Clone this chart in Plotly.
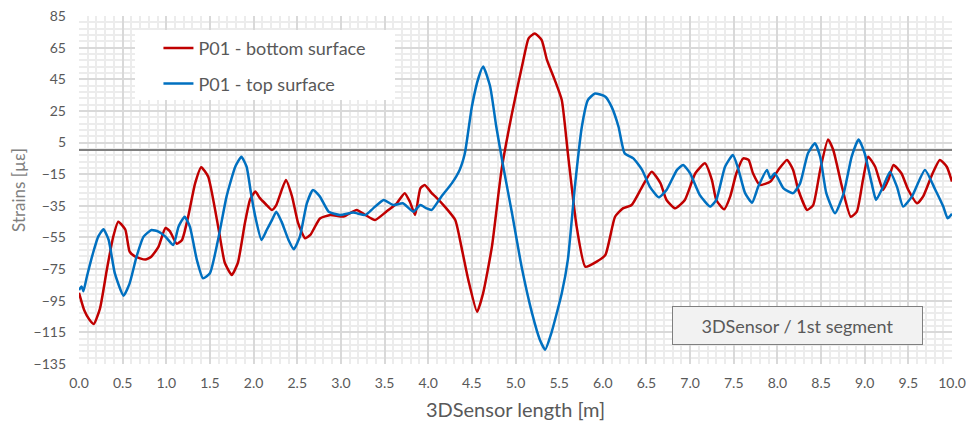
import plotly.graph_objects as go

# ---- data ----
bottom_x = [0.0, 0.06, 0.12, 0.17, 0.24, 0.32, 0.39, 0.45, 0.53, 0.58, 0.64, 0.76, 0.83, 0.91, 0.99, 1.04,
            1.12, 1.18, 1.25, 1.33, 1.40, 1.48, 1.60, 1.67, 1.75, 1.82, 1.90, 1.96, 2.02, 2.07, 2.14, 2.21,
            2.26, 2.37, 2.44, 2.51, 2.59, 2.65, 2.76, 2.88, 3.03, 3.18, 3.28, 3.39, 3.52, 3.64, 3.73, 3.79,
            3.85, 3.91, 3.96, 4.04, 4.08, 4.19, 4.31, 4.38, 4.46, 4.56, 4.63, 4.73, 4.84, 4.96, 5.09, 5.15,
            5.22, 5.30, 5.36, 5.45, 5.53, 5.60, 5.70, 5.80, 5.93, 6.03, 6.14, 6.23, 6.33, 6.45, 6.56, 6.66,
            6.73, 6.83, 6.94, 7.06, 7.17, 7.25, 7.30, 7.39, 7.46, 7.53, 7.61, 7.67, 7.72, 7.80, 7.92, 8.01,
            8.11, 8.18, 8.24, 8.34, 8.41, 8.49, 8.58, 8.64, 8.74, 8.84, 8.91, 8.98, 9.04, 9.12, 9.21, 9.27,
            9.33, 9.42, 9.50, 9.60, 9.67, 9.77, 9.86, 9.94, 10.0]
bottom_y = [-90, -101, -107, -109.7, -100, -75, -55, -45, -50, -64, -67, -69, -67, -61, -49, -51,
            -59, -56.6, -41.9, -20.8, -10.6, -16.6, -50, -71, -78.7, -71, -46, -31, -26, -30, -34, -37.6,
            -34.5, -18.7, -29, -46, -55.5, -53.4, -43, -40.8, -41.8, -37.6, -40.8, -44, -38.7, -33.4, -27, -32.4,
            -40.8, -24, -21.8, -27, -29, -35.5, -44, -60.8, -82, -102, -90, -60.8, -12.3, 23.5, 57.2, 70.9,
            74, 69.8, 57.2, 44.5, 31.9, -1.8, -48, -73.5, -70.3, -66, -41.9, -36.6, -34.5, -23, -13.4, -20.7,
            -31.3, -36.6, -31.3, -14.4, -8.1, -18.7, -31.3, -37.2, -29, -14.4, -5, -6, -14.4, -21.8, -19.7, -12.3,
            -6, -12.3, -25, -37.6, -34.5, -12.3, 7, 0.3, -23, -41.9, -38.7, -18.7, -4, -10.3, -25, -18.7,
            -9.2, -14.4, -25, -33.4, -29, -15.5, -6, -10.3, -19.7]

top_x = [0.0, 0.03, 0.05, 0.09, 0.16, 0.22, 0.28, 0.34, 0.41, 0.51, 0.58, 0.66, 0.74, 0.83, 0.91, 0.99,
         1.08, 1.14, 1.21, 1.27, 1.35, 1.42, 1.50, 1.60, 1.69, 1.79, 1.86, 1.92, 1.97, 2.02, 2.09, 2.15,
         2.21, 2.26, 2.32, 2.40, 2.46, 2.53, 2.61, 2.68, 2.76, 2.86, 2.99, 3.14, 3.28, 3.37, 3.49, 3.60,
         3.71, 3.83, 3.91, 3.98, 4.04, 4.15, 4.27, 4.36, 4.42, 4.50, 4.58, 4.63, 4.71, 4.78, 4.86, 4.96,
         5.07, 5.19, 5.28, 5.34, 5.41, 5.53, 5.60, 5.68, 5.76, 5.83, 5.91, 6.03, 6.10, 6.18, 6.25, 6.35,
         6.45, 6.54, 6.64, 6.73, 6.85, 6.92, 7.00, 7.11, 7.23, 7.30, 7.40, 7.49, 7.55, 7.63, 7.71, 7.78,
         7.88, 7.92, 7.97, 8.07, 8.18, 8.26, 8.35, 8.43, 8.49, 8.56, 8.66, 8.76, 8.85, 8.93, 9.00, 9.08,
         9.13, 9.21, 9.29, 9.37, 9.44, 9.54, 9.69, 9.81, 9.90, 9.95, 10.0]
top_y = [-88.2, -86, -89, -79.8, -65, -54.5, -49.8, -56.6, -77.6, -91.8, -84, -67, -54.5, -50.3, -51.3, -54.5,
         -59.8, -48.2, -41.9, -48.2, -69.2, -80.8, -77.6, -54.5, -29.2, -10.3, -4, -10.3, -27, -42, -56.6, -50.3,
         -44, -38.7, -45, -56.6, -62.5, -54.5, -33.4, -25, -29.2, -38.7, -40.8, -39.3, -40.8, -36.6, -31.3, -34.5,
         -33.4, -38.7, -34.5, -36.6, -37.6, -29.2, -20.8, -12.3, -1.8, 27.7, 46.6, 53, 40.3, 15, -10.3, -39.7,
         -73.5, -103, -119.8, -126, -115.6, -90.3, -69, -23, 15, 31.9, 36, 34, 27.7, 15, -1.8, -5,
         -12.3, -23, -29.6, -25, -12.3, -9.2, -14.4, -28.1, -35.5, -31.3, -10.3, -2.9, -11.3, -27, -33, -23,
         -12.3, -17.6, -14.4, -24, -27, -20.8, -1.8, 4.5, -4, -27, -39.7, -27, -4, 7, -1.8, -20.8,
         -31.3, -23, -13.4, -23, -35.5, -29.2, -12.3, -25, -35.5, -42.9, -40]

y_ticks = list(range(-135, 86, 20))
x_ticks = [i * 0.5 for i in range(21)]
x_tick_labels = [f"{v:.1f}" for v in x_ticks]

series_names = ["P01 - bottom surface", "P01 - top surface"]
series_colors = ["#c00000", "#0070c0"]

FONT = "Lato, 'Open Sans', sans-serif"
GREY = "#595959"

fig = go.Figure()
fig.add_trace(go.Scatter(x=bottom_x, y=bottom_y, mode="lines", name=series_names[0], legendgroup="a",
                         line=dict(color=series_colors[0], width=2.5, shape="spline", smoothing=0.5)))
fig.add_trace(go.Scatter(x=top_x, y=top_y, mode="lines", name=series_names[1], legendgroup="b",
                         line=dict(color=series_colors[1], width=2.5, shape="spline", smoothing=0.5)))

# page has an 8px body margin, so the figure is sized/placed to compensate
fig.update_layout(
    width=966, height=419,
    margin=dict(l=71, r=22, t=8, b=63),
    paper_bgcolor="white", plot_bgcolor="white",
    font=dict(family=FONT, color=GREY, size=14),
    showlegend=True,
    legend=dict(x=0.091, y=0.96, xanchor="left", yanchor="top",
                bgcolor="rgba(0,0,0,0)", borderwidth=0,
                font=dict(size=18, color=GREY, family=FONT),
                tracegroupgap=9),
    xaxis=dict(range=[0, 10], tickvals=x_ticks, ticktext=x_tick_labels,
               showgrid=True, gridcolor="#d9d9d9", gridwidth=1.5,
               minor=dict(dtick=0.1, showgrid=True, gridcolor="#ececec", gridwidth=1.5),
               zeroline=False, showline=False, ticks="", ticklabelstandoff=9,
               automargin=False, ticklabeloverflow="allow",
               title=dict(text="3DSensor length [m]", font=dict(size=20, color=GREY), standoff=12),
               tickfont=dict(size=14, color=GREY)),
    yaxis=dict(range=[-135, 85], tickvals=y_ticks,
               showgrid=True, gridcolor="#d9d9d9", gridwidth=1.5,
               minor=dict(tick0=-135, dtick=4, showgrid=True, gridcolor="#ececec", gridwidth=1.5),
               zeroline=True, zerolinecolor="#808080", zerolinewidth=1.8,
               showline=False, ticks="", ticklabelstandoff=12,
               automargin=False, ticklabeloverflow="allow",
               title=dict(text="Strains [µε]", font=dict(size=17, color="#7f7f7f"), standoff=10),
               tickfont=dict(size=14, color=GREY)),
)

# white panel behind the legend (covers gridlines, as in the reference)
fig.add_shape(type="rect", xref="paper", yref="paper",
              x0=(135 - 79) / 873, x1=(395 - 79) / 873,
              y0=(364 - 100) / 348, y1=(364 - 30) / 348,
              fillcolor="white", line=dict(width=0), layer="above")

fig.add_annotation(x=(923 - 79) / 873, y=(364 - 345) / 348, xref="paper", yref="paper",
                   text="3DSensor / 1st segment", showarrow=False,
                   font=dict(size=18, color=GREY, family=FONT),
                   bgcolor="#f2f2f2", bordercolor="#7f7f7f", borderwidth=1, borderpad=1,
                   width=247, height=35, xanchor="right", yanchor="bottom")

fig.write_html("out.html")
